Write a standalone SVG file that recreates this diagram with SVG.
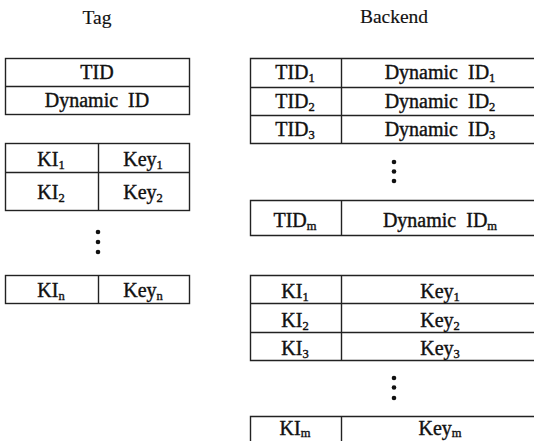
<svg xmlns="http://www.w3.org/2000/svg" width="534" height="441" viewBox="0 0 534 441">
<style>
text{font-family:"Liberation Serif","Times New Roman",serif;font-size:20px;fill:#111;stroke:#111;stroke-width:0.4;text-anchor:middle}
.t{font-size:19.5px;stroke-width:0.15}
.s{font-size:12.5px}
.b{fill:none;stroke:#222;stroke-width:1.4}
.d{fill:#111}
</style>
<rect width="534" height="441" fill="#fff"/>
<text class="t" x="97" y="24">Tag</text>
<text class="t" x="394" y="23">Backend</text>

<g id="tag-id-table">
<rect class="b" x="5.5" y="58.5" width="184" height="56"/>
<line class="b" x1="5.5" y1="86.5" x2="189.5" y2="86.5"/>
<text x="97" y="79">TID</text>
<text x="97" y="107">Dynamic&#160; ID</text>
</g>

<g id="tag-key-table">
<rect class="b" x="5.5" y="143.5" width="184" height="67"/>
<line class="b" x1="5.5" y1="172.5" x2="189.5" y2="172.5"/>
<line class="b" x1="98.5" y1="143.5" x2="98.5" y2="210.5"/>
<text x="51" y="166">KI<tspan class="s" dy="3">1</tspan></text>
<text x="143" y="166">Key<tspan class="s" dy="3">1</tspan></text>
<text x="51" y="199">KI<tspan class="s" dy="3">2</tspan></text>
<text x="143" y="199">Key<tspan class="s" dy="3">2</tspan></text>
</g>

<g id="tag-dots">
<circle class="d" cx="98" cy="232" r="2.3"/>
<circle class="d" cx="98" cy="242" r="2.3"/>
<circle class="d" cx="98" cy="252" r="2.3"/>
</g>

<g id="tag-key-n">
<rect class="b" x="5.5" y="275.5" width="184" height="28"/>
<line class="b" x1="98.5" y1="275.5" x2="98.5" y2="303.5"/>
<text x="51" y="297">KI<tspan class="s" dy="3">n</tspan></text>
<text x="143" y="297">Key<tspan class="s" dy="3">n</tspan></text>
</g>

<g id="backend-id-table">
<path class="b" d="M534,58.5 H250.5 V143.5 H534 M250.5,87.5 H534 M250.5,115.5 H534 M341.5,58.5 V143.5"/>
<text x="295" y="79">TID<tspan class="s" dy="3">1</tspan></text>
<text x="440" y="79">Dynamic&#160; ID<tspan class="s" dy="3">1</tspan></text>
<text x="295" y="108">TID<tspan class="s" dy="3">2</tspan></text>
<text x="440" y="108">Dynamic&#160; ID<tspan class="s" dy="3">2</tspan></text>
<text x="295" y="136">TID<tspan class="s" dy="3">3</tspan></text>
<text x="440" y="136">Dynamic&#160; ID<tspan class="s" dy="3">3</tspan></text>
</g>

<g id="backend-id-dots">
<circle class="d" cx="394" cy="162" r="2.3"/>
<circle class="d" cx="394" cy="171.5" r="2.3"/>
<circle class="d" cx="394" cy="181" r="2.3"/>
</g>

<g id="backend-id-m">
<path class="b" d="M534,200.5 H250.5 V235.5 H534 M341.5,200.5 V235.5"/>
<text x="295" y="227">TID<tspan class="s" dy="3">m</tspan></text>
<text x="440" y="227">Dynamic&#160; ID<tspan class="s" dy="3">m</tspan></text>
</g>

<g id="backend-key-table">
<path class="b" d="M534,275.5 H250.5 V360.5 H534 M250.5,303.5 H534 M250.5,332.5 H534 M341.5,275.5 V360.5"/>
<text x="295" y="298">KI<tspan class="s" dy="3">1</tspan></text>
<text x="440" y="298">Key<tspan class="s" dy="3">1</tspan></text>
<text x="295" y="327">KI<tspan class="s" dy="3">2</tspan></text>
<text x="440" y="327">Key<tspan class="s" dy="3">2</tspan></text>
<text x="295" y="355">KI<tspan class="s" dy="3">3</tspan></text>
<text x="440" y="355">Key<tspan class="s" dy="3">3</tspan></text>
</g>

<g id="backend-key-dots">
<circle class="d" cx="394" cy="378" r="2.3"/>
<circle class="d" cx="394" cy="387.5" r="2.3"/>
<circle class="d" cx="394" cy="398" r="2.3"/>
</g>

<g id="backend-key-m">
<path class="b" d="M534,416.5 H250.5 V441 M341.5,416.5 V441"/>
<text x="295" y="435">KI<tspan class="s" dy="2">m</tspan></text>
<text x="440" y="435">Key<tspan class="s" dy="2">m</tspan></text>
</g>
</svg>
